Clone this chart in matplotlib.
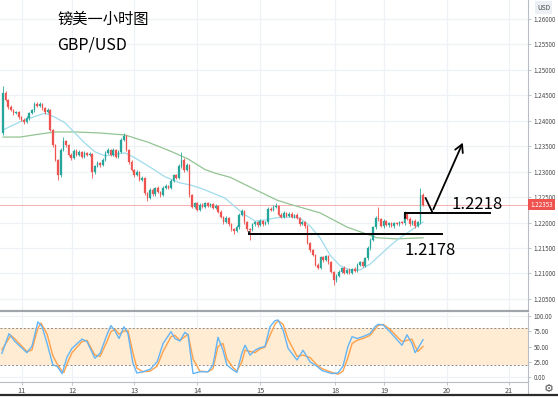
import matplotlib
matplotlib.use("Agg")
import matplotlib.pyplot as plt
import numpy as np
from matplotlib.transforms import blended_transform_factory

plt.rcParams['font.family'] = ['Noto Sans CJK SC', 'DejaVu Sans']

# ---------------- data ----------------
title_cn = "镑美一小时图"
title_pair = "GBP/USD"

first_open = 1.2376
closes = [
    1.2455, 1.2441, 1.2427, 1.2421, 1.2415, 1.2417, 1.2407, 1.2402, 1.2398, 1.2405,
    1.2415, 1.2421, 1.2433, 1.2429, 1.2433, 1.2425, 1.2417, 1.2421, 1.2382, 1.2352,
    1.2323, 1.2293, 1.2343, 1.2360, 1.2352, 1.2333, 1.2327, 1.2341, 1.2333, 1.2339,
    1.2329, 1.2337, 1.2333, 1.2335, 1.2299, 1.2311, 1.2317, 1.2313, 1.2323, 1.2337,
    1.2343, 1.2333, 1.2343, 1.2329, 1.2339, 1.2362, 1.2370, 1.2343, 1.2319, 1.2303,
    1.2293, 1.2299, 1.2284, 1.2288, 1.2258, 1.2248, 1.2264, 1.2256, 1.2268, 1.2260,
    1.2254, 1.2268, 1.2272, 1.2268, 1.2282, 1.2293, 1.2288, 1.2311, 1.2323, 1.2303,
    1.2313, 1.2254, 1.2231, 1.2238, 1.2225, 1.2235, 1.2231, 1.2238, 1.2233, 1.2236,
    1.2229, 1.2233, 1.2221, 1.2211, 1.2201, 1.2209, 1.2197, 1.2187, 1.2183, 1.2191,
    1.2215, 1.2223, 1.2201, 1.2187, 1.2185, 1.2197, 1.2201, 1.2195, 1.2203, 1.2197,
    1.2201, 1.2227, 1.2225, 1.2231, 1.2233, 1.2215, 1.2211, 1.2219, 1.2213, 1.2217,
    1.2211, 1.2215, 1.2209, 1.2197, 1.2201, 1.2193, 1.2160, 1.2146, 1.2136, 1.2117,
    1.2111, 1.2132, 1.2126, 1.2134, 1.2122, 1.2103, 1.2087, 1.2095, 1.2103, 1.2111,
    1.2101, 1.2107, 1.2101, 1.2109, 1.2105, 1.2117, 1.2122, 1.2115, 1.2130, 1.2150,
    1.2166, 1.2191, 1.2209, 1.2207, 1.2193, 1.2203, 1.2195, 1.2199, 1.2193, 1.2199,
    1.2197, 1.2201, 1.2199, 1.2219, 1.2207, 1.2197, 1.2203, 1.2193, 1.2201, 1.2254,
    1.22353,
]
# upper / lower wick lengths in pips
hi_wick = [
    13, 3, 2, 3, 2, 3, 2, 2, 3, 4, 2, 3, 4, 3, 4, 2, 3, 4, 3, 2,
    3, 2, 4, 8, 3, 2, 3, 4, 3, 3, 2, 3, 2, 3, 2, 3, 3, 2, 3, 4,
    3, 2, 4, 2, 3, 5, 6, 3, 2, 3, 3, 4, 2, 3, 2, 3, 4, 3, 2, 3,
    2, 3, 3, 2, 4, 3, 2, 4, 16, 3, 4, 2, 3, 3, 2, 4, 3, 3, 2, 3,
    2, 3, 2, 3, 2, 3, 2, 3, 2, 4, 3, 4, 2, 3, 2, 3, 3, 2, 3, 2,
    3, 4, 3, 3, 5, 2, 3, 3, 2, 3, 3, 2, 3, 2, 3, 2, 3, 2, 3, 2,
    3, 3, 2, 3, 2, 3, 2, 3, 3, 2, 3, 2, 3, 2, 3, 3, 2, 3, 3, 3,
    3, 3, 4, 22, 2, 3, 2, 3, 2, 3, 2, 3, 2, 4, 2, 3, 2, 3, 3, 13,
    4,
]
lo_wick = [
    4, 2, 3, 2, 3, 2, 3, 3, 4, 2, 3, 2, 3, 2, 2, 3, 3, 2, 3, 3,
    3, 9, 3, 2, 3, 3, 4, 2, 3, 2, 3, 2, 3, 2, 11, 3, 2, 3, 2, 3,
    2, 3, 2, 3, 2, 3, 2, 3, 3, 2, 3, 2, 3, 3, 3, 6, 2, 3, 3, 2,
    3, 2, 3, 3, 2, 3, 3, 2, 3, 3, 2, 3, 3, 2, 3, 2, 3, 2, 3, 3,
    2, 3, 3, 2, 3, 2, 3, 3, 6, 2, 3, 2, 3, 3, 19, 2, 3, 3, 2, 3,
    2, 3, 2, 3, 2, 3, 3, 2, 3, 2, 3, 3, 2, 3, 2, 3, 3, 3, 2, 3,
    3, 2, 3, 2, 3, 3, 10, 3, 2, 3, 2, 3, 2, 3, 2, 3, 3, 2, 3, 3,
    3, 2, 3, 3, 2, 3, 2, 3, 2, 3, 2, 3, 2, 3, 2, 3, 2, 3, 2, 3,
    2,
]

# moving averages (hour index, price)
ma_fast_x = [0, 6.5, 11.4, 16, 19.8, 23.6, 27.4, 31.2, 35, 38.9, 46.5, 50.3, 56, 61.7,
             67.4, 71.2, 75, 78.9, 84.6, 88.4, 92.2, 96, 99.8, 103.6, 109.3, 113.1, 117,
             120.8, 124.6, 128.4, 132.2, 136, 139.8, 143.6, 147.4, 151.2, 155, 158.8, 160]
ma_fast_y = [1.2382, 1.2398, 1.2407, 1.2415, 1.2407, 1.2396, 1.2376, 1.2356, 1.2339, 1.2331,
             1.2337, 1.2327, 1.2309, 1.2290, 1.2278, 1.2274, 1.2268, 1.2260, 1.2248, 1.2231,
             1.2215, 1.2203, 1.2205, 1.2209, 1.2211, 1.2209, 1.2193, 1.2170, 1.2136, 1.2115,
             1.2107, 1.2107, 1.2118, 1.2136, 1.2154, 1.2170, 1.2183, 1.2197, 1.2201]
ma_slow_x = [0, 6.5, 14.1, 19.8, 27.4, 37, 46.5, 55.2, 64.4, 70.5, 77, 80.8, 86.5, 95.2,
             104.4, 109.3, 120.8, 131.1, 137.1, 142.5, 150, 160]
ma_slow_y = [1.2368, 1.2368, 1.2374, 1.2378, 1.2378, 1.2376, 1.2372, 1.2358, 1.2339, 1.2325,
             1.2304, 1.2297, 1.2289, 1.2267, 1.2244, 1.2236, 1.2219, 1.2191, 1.2180, 1.2170,
             1.2168, 1.2170]

# stochastic oscillator (hour index, value)
k_x = [-0.4, 2.3, 4.6, 9.1, 11.0, 13.3, 14.9, 16.8, 19.0, 20.6, 22.5, 24.4, 26.3, 30.1, 32.0,
       35.0, 37.0, 39.6, 41.1, 42.7, 44.2, 46.1, 47.6, 49.5, 51.0, 53.3, 56.0, 58.7, 61.0,
       64.0, 65.5, 67.4, 69.3, 70.5, 72.4, 75.0, 78.1, 80.0, 81.9, 83.8, 85.3, 87.6, 89.1,
       91.0, 92.2, 94.1, 96.0, 97.9, 99.8, 101.7, 103.6, 104.8, 106.7, 108.6, 112.0, 114.3,
       117.0, 119.6, 121.5, 125.3, 127.6, 129.5, 131.4, 133.0, 134.9, 137.1, 139.8, 141.7,
       142.9, 144.8, 147.4, 150.1, 152.0, 153.9, 155.8, 157.0, 158.1, 160.0]
k_v = [39, 71, 58, 40, 50, 90, 82, 55, 20, 18, 6, 33, 47, 62, 58,
       31, 39, 69, 84, 75, 63, 82, 71, 23, 7, 9, 13, 25, 55,
       74, 63, 59, 73, 69, 6, 9, 9, 20, 65, 44, 20, 12, 8,
       39, 52, 36, 44, 48, 50, 82, 92, 93, 77, 47, 28, 44,
       25, 18, 11, 6, 7, 18, 50, 66, 63, 66, 71, 82,
       86, 85, 74, 61, 52, 69, 55, 40, 47, 61]
d_x = [-0.4, 3.0, 4.6, 9.1, 11.0, 13.3, 14.5, 16.8, 19.0, 20.6, 22.5, 23.2, 24.4, 26.3, 30.1,
       32.0, 35.0, 37.0, 39.6, 41.1, 42.7, 44.2, 46.1, 47.6, 49.5, 51.0, 53.3, 56.0, 58.7,
       61.0, 64.0, 65.5, 67.4, 69.3, 70.5, 72.4, 75.0, 78.1, 80.0, 81.9, 83.8, 85.3, 87.6,
       89.1, 91.0, 92.2, 94.1, 96.0, 97.9, 99.8, 101.7, 103.6, 104.8, 106.7, 108.6, 112.0,
       114.3, 117.0, 119.6, 121.5, 125.3, 127.6, 129.5, 131.4, 133.0, 134.9, 137.1, 139.8,
       141.7, 142.9, 144.8, 147.4, 150.1, 152.0, 153.9, 155.8, 157.0, 158.1, 160.0]
d_v = [45, 68, 62, 42, 44, 80, 88, 70, 35, 22, 10, 8, 22, 40, 58,
       60, 36, 34, 58, 74, 78, 70, 75, 76, 40, 15, 9, 10, 18,
       42, 66, 68, 60, 66, 70, 30, 10, 9, 14, 50, 55, 30, 16,
       10, 25, 44, 42, 40, 46, 49, 68, 86, 92, 86, 62, 34,
       36, 32, 20, 14, 8, 5, 10, 32, 55, 60, 63, 68,
       78, 84, 86, 78, 66, 58, 60, 62, 50, 42, 50]

day_pos = [7.2, 26.3, 49.9, 73.9, 97.9, 126.5, 145.1, 169.1, 192.8]
day_labels = ["11", "12", "13", "14", "15", "18", "19", "20", "21"]

price_ticks = [1.205, 1.210, 1.215, 1.220, 1.225, 1.230, 1.235, 1.240, 1.245, 1.250, 1.255, 1.260]
osc_ticks = [0, 25, 50, 75, 100]
last_price = 1.22353
support = 1.2178
resistance = 1.2218
sup_span = [93.7, 167.2]
res_span = [153.1, 185.5]
check_pts_x = [161.0, 163.5]
check_pts_y = [1.2248, 1.2221]
arrow_tip = (175.6, 1.2362)

# ---------------- style ----------------
W, H = 558, 398
UP, DN = "#26a69a", "#ef5350"
GRID = "#eef2f6"
AXC = "#b8bcc4"
LBL = "#4a4a4a"
TICKFS = 4.5

fig = plt.figure(figsize=(W / 100, H / 100), dpi=100)
fig.patch.set_facecolor("white")

def fx(px):
    return px / W

def fy(py):
    return 1 - py / H

ax = fig.add_axes([0, fy(311), fx(528), 311 / H])
axo = fig.add_axes([0, fy(381.5), fx(528), (381.5 - 313) / H], sharex=ax)

xmin, xmax = -1.14, 200.0
ax.set_xlim(xmin, xmax)
ax.set_ylim(1.20262, 1.26373)
axo.set_ylim(-6.8, 104.4)

# grid
for a in (ax, axo):
    for d in day_pos:
        a.axvline(d, color=GRID, lw=0.9, zorder=0)
for p in price_ticks:
    ax.axhline(p, color=GRID, lw=0.9, zorder=0)
for v in (0, 100):
    axo.axhline(v, color=GRID, lw=0.9, zorder=0)

# candles
n = len(closes)
opens = [first_open] + closes[:-1]
for i in range(n):
    o, c = opens[i], closes[i]
    col = UP if c >= o else DN
    top = max(o, c) + hi_wick[i] * 0.0001
    bot = min(o, c) - lo_wick[i] * 0.0001
    ax.vlines(i, bot, top, color=col, lw=0.6, zorder=3)
    h = max(abs(c - o), 0.00008)
    ax.bar(i, h, bottom=min(o, c), width=0.62, color=col, edgecolor=col, lw=0.2, zorder=4)

# moving averages
ax.plot(ma_slow_x, ma_slow_y, color="#93c493", lw=0.9, zorder=2)
ax.plot(ma_fast_x, ma_fast_y, color="#9fdcec", lw=0.9, zorder=2)

# last price line
ax.axhline(last_price, color="#f5a3a3", lw=0.6, zorder=1)

# support / resistance
ax.plot(sup_span, [support, support], color="black", lw=1.4, zorder=6)
ax.plot([sup_span[0], sup_span[0]], [support, support + 0.0004], color="black", lw=1.2, zorder=6)
ax.plot(res_span, [resistance, resistance], color="black", lw=1.4, zorder=6)
ax.plot([res_span[0], res_span[0]], [resistance, resistance - 0.0010], color="black", lw=1.2, zorder=6)
ax.plot(check_pts_x, check_pts_y, color="black", lw=1.3, zorder=6)
ax.annotate("", xy=arrow_tip, xytext=(check_pts_x[1], check_pts_y[1]),
            arrowprops=dict(arrowstyle="->,head_length=0.55,head_width=0.3", color="black", lw=1.3),
            zorder=6)
ax.text(170.7, 1.22345, "1.2218", fontsize=12, color="black", va="center", ha="left", zorder=7)
ax.text(153.1, 1.2146, "1.2178", fontsize=12, color="black", va="center", ha="left", zorder=7)

# oscillator
axo.axhspan(20, 80, color="#ffecd2", zorder=0.5, lw=0)
axo.axhline(80, color="#8a8a8a", lw=0.7, ls=(0, (2, 2)), zorder=1)
axo.axhline(20, color="#8a8a8a", lw=0.7, ls=(0, (2, 2)), zorder=1)
axo.plot(d_x, d_v, color="#ffa04a", lw=1.0, zorder=3)
axo.plot(k_x, k_v, color="#64b5f6", lw=1.0, zorder=4)

# axes styling
for a in (ax, axo):
    for s in ("left", "top"):
        a.spines[s].set_visible(False)
    a.spines["right"].set_color(AXC)
    a.spines["right"].set_linewidth(0.8)
    a.yaxis.tick_right()
    a.tick_params(axis="y", colors=AXC, labelcolor=LBL, labelsize=TICKFS, length=2.5, width=0.6, pad=1.5)
ax.spines["bottom"].set_color("#a0a4ab")
ax.spines["bottom"].set_linewidth(1.6)
axo.spines["bottom"].set_color(AXC)
axo.spines["bottom"].set_linewidth(0.8)

ax.set_yticks(price_ticks)
ax.set_yticklabels([f"{p:.5f}" for p in price_ticks])
axo.set_yticks(osc_ticks)
axo.set_yticklabels([f"{v:.2f}" for v in osc_ticks])
ax.tick_params(axis="x", bottom=False, labelbottom=False)
axo.set_xticks(day_pos)
axo.set_xticklabels(day_labels)
axo.tick_params(axis="x", colors=AXC, labelcolor=LBL, labelsize=5.2, length=2.5, width=0.6, pad=1.5)

# last price tag
tr = blended_transform_factory(ax.transAxes, ax.transData)
ax.text(1.004, last_price, f"{last_price:.5f}", transform=tr, fontsize=TICKFS, color="white",
        va="center", ha="left", zorder=10, clip_on=False,
        bbox=dict(boxstyle="square,pad=0.3", fc="#ef5350", ec="none"))

# right axis full-height line
fig.add_artist(plt.Line2D([fx(528), fx(528)], [fy(395), fy(381.5)], color=AXC, lw=0.8))
# currency tag
fig.text(fx(543.5), fy(7.5), "USD", fontsize=4.8, color=LBL, ha="center", va="center",
         bbox=dict(boxstyle="square,pad=0.35", fc="#eceff3", ec="none"))
# gear icon
fig.text(fx(549), fy(389.5), "\u2699", fontsize=8, color="#555555", ha="center", va="center",
         family=["DejaVu Sans"])
# bottom border
fig.add_artist(plt.Line2D([0, 1], [fy(394.8), fy(394.8)], color="#2b2b2b", lw=1.6))

# titles
fig.text(fx(57), fy(19.5), title_cn, fontsize=11, color="black", ha="left", va="center")
fig.text(fx(57), fy(44.5), title_pair, fontsize=11.5, color="black", ha="left", va="center")

fig.savefig("out.png", dpi=100, facecolor="white")
